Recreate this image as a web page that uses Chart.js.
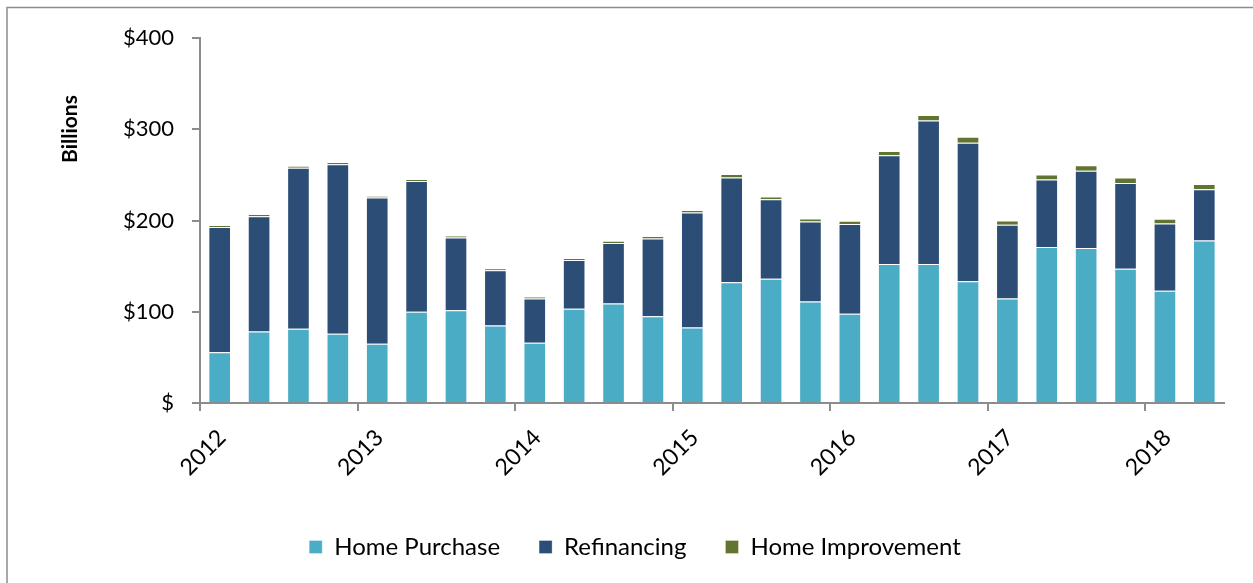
<!DOCTYPE html>
<html>
<head>
<meta charset="utf-8">
<script src="https://cdn.jsdelivr.net/npm/chart.js@4.4.0/dist/chart.umd.min.js"></script>
<style>
  html, body { margin: 0; padding: 0; background: #fff; }
  #wrap { position: relative; width: 1253px; height: 583px; }
</style>
</head>
<body>
<div id="wrap"><canvas id="originChart" width="1253" height="583"></canvas></div>
<script>

// quarterly originations, $ billions, 2012 Q1 - 2018 Q2
var quarters = ['2012 Q1', '2012 Q2', '2012 Q3', '2012 Q4', '2013 Q1', '2013 Q2', '2013 Q3', '2013 Q4',
	'2014 Q1', '2014 Q2', '2014 Q3', '2014 Q4', '2015 Q1', '2015 Q2', '2015 Q3', '2015 Q4',
	'2016 Q1', '2016 Q2', '2016 Q3', '2016 Q4', '2017 Q1', '2017 Q2', '2017 Q3', '2017 Q4',
	'2018 Q1', '2018 Q2'];

var homePurchase = [55.7, 78.4, 81.3, 75.8, 64.9, 99.9, 101.6, 84.9, 66.0, 103.2, 109.0, 95.1, 82.7,
	132.2, 136.3, 111.1, 97.7, 152.3, 152.3, 133.3, 114.4, 170.9, 169.8, 147.2, 123.0, 178.1];

var refinancing = [137.1, 126.2, 176.6, 185.8, 160.2, 143.5, 79.8, 60.5, 48.4, 53.5, 66.3, 85.2, 126.0,
	114.8, 87.1, 87.8, 98.4, 119.2, 157.4, 151.9, 80.9, 73.9, 84.8, 94.0, 73.7, 56.2];

var homeImprovement = [2.2, 2.4, 2.2, 2.4, 1.9, 2.2, 1.9, 2.1, 2.2, 2.2, 2.5, 2.6, 2.7,
	4.0, 2.8, 3.3, 3.6, 4.7, 5.8, 6.6, 4.7, 5.5, 5.9, 5.8, 5.2, 5.8];

var firstYear = 2012;
var yTicks = [0, 100, 200, 300, 400];


function toPoints(values) {
	var pts = [];
	for ( var i = 0; i < values.length; i++ ) {
		pts.push({ x: i + 0.5, y: values[i] });
	}
	return pts;
}

var axisGray = '#8c8c8c';
var fontFamily = 'Lato, "Liberation Sans", sans-serif';

var frame = {
	id: 'frame',
	beforeDraw: function(chart) {
		var ctx = chart.ctx;
		ctx.save();
		ctx.strokeStyle = axisGray;
		ctx.lineWidth = 1.5;
		ctx.beginPath();
		ctx.moveTo(7, chart.height);
		ctx.lineTo(7, 7.5);
		ctx.lineTo(chart.width, 7.5);
		ctx.stroke();
		ctx.restore();
	},
	afterDraw: function(chart) {
		var ctx = chart.ctx;
		ctx.save();
		ctx.translate(70, 129);
		ctx.rotate(-Math.PI / 2);
		ctx.font = 'bold 21px ' + fontFamily;
		ctx.fillStyle = '#000';
		ctx.textAlign = 'center';
		ctx.textBaseline = 'middle';
		ctx.fillText('Billions', 0, 0);
		ctx.restore();
	}
};

var data = {
	datasets: [{
		label: 'Home Purchase',
		data: toPoints(homePurchase),
		backgroundColor: '#4BACC6',
		borderColor: 'rgba(255,255,255,0.3)',
		borderWidth: 1
	}, {
		label: 'Refinancing',
		data: toPoints(refinancing),
		backgroundColor: '#2C4D76',
		borderColor: 'rgba(255,255,255,0.3)',
		borderWidth: 1
	}, {
		label: 'Home Improvement',
		data: toPoints(homeImprovement),
		backgroundColor: '#617530',
		borderColor: 'rgba(255,255,255,0.3)',
		borderWidth: 1
	}]
};

var ctx = document.getElementById('originChart');

var originChart = new Chart(ctx, {
	type: 'bar',
	data: data,
	plugins: [frame],
	options: {
		responsive: false,
		animation: false,
		layout: {
			padding: { left: 46, right: 29, top: 38, bottom: 14 }
		},
		datasets: {
			bar: { categoryPercentage: 1, barPercentage: 0.575 }
		},
		plugins: {
			tooltip: { enabled: false },
			legend: {
				position: 'bottom',
				labels: {
					boxWidth: 13,
					boxHeight: 13,
					padding: 39,
					color: '#000',
					font: { family: fontFamily, size: 24 }
				}
			}
		},
		scales: {
			x: {
				type: 'linear',
				stacked: true,
				offset: false,
				min: 0,
				max: quarters.length,
				afterFit: function(scale) { scale.height = 93; },
				grid: { offset: false, drawOnChartArea: false, drawTicks: true, tickLength: 8, color: axisGray, lineWidth: 2 },
				border: { display: true, color: axisGray, width: 2 },
				ticks: {
					stepSize: 4,
					includeBounds: false,
					autoSkip: false,
					maxRotation: 45,
					minRotation: 45,
					labelOffset: 22,
					padding: 13,
					color: '#000',
					font: { family: fontFamily, size: 23 },
					callback: function(v) { return String(firstYear + v / 4); }
				}
			},
			y: {
				stacked: true,
				min: yTicks[0],
				max: yTicks[yTicks.length - 1],
				afterFit: function(scale) { scale.width = 154; },
				afterBuildTicks: function(scale) {
					scale.ticks = yTicks.map(function(v) { return { value: v }; });
				},
				grid: { drawOnChartArea: false, drawTicks: true, tickLength: 8, color: axisGray, lineWidth: 2 },
				border: { display: true, color: axisGray, width: 2 },
				ticks: {
					padding: 18,
					color: '#000',
					font: { family: fontFamily, size: 22 },
					callback: function(v) { return v === 0 ? '$' : '$' + v; }
				}
			}
		}
	}
});

</script>
</body>
</html>
